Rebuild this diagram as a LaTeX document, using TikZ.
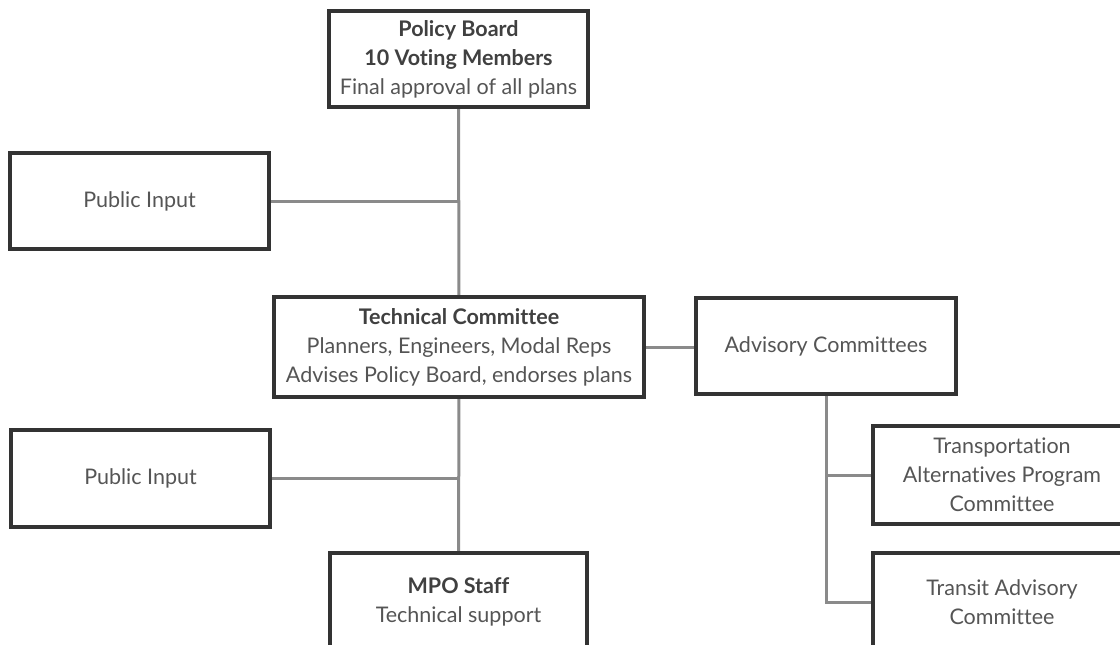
\documentclass[tikz,border=0pt]{standalone}
\usepackage{fontspec}
\setmainfont{Lato}[Ligatures=NoCommon]
\usepackage{xcolor}
\definecolor{boxline}{HTML}{333333}
\definecolor{wireline}{HTML}{8A8A8A}
\definecolor{bodytext}{HTML}{555555}
\definecolor{headtext}{HTML}{404040}

\tikzset{
  orgbox/.style={draw=boxline, line width=2.6pt, fill=white, align=center,
    inner sep=0pt, minimum width=257pt, minimum height=96pt,
    text=bodytext, font=\fontsize{21.5}{29}\selectfont},
  wire/.style={draw=wireline, line width=3pt}
}
\newcommand{\boxhead}[1]{\textcolor{headtext}{\textbf{#1}}}

\begin{document}
\begin{tikzpicture}[x=1pt,y=1pt,yscale=-1,xscale=1]
  \useasboundingbox (0,0) rectangle (1120,645);
  \clip (0,0) rectangle (1120,645);

  % Boxes
  \node [orgbox, minimum height=94pt] (board) at (458.5,59)
    {\boxhead{Policy Board}\\ \boxhead{10 Voting Members}\\ Final approval of all plans};
  \node [orgbox, minimum height=94pt] (pubtop) at (139.5,201) {Public Input};
  \node [orgbox, minimum width=368pt, minimum height=98pt] (tech) at (459,347)
    {\boxhead{Technical Committee}\\ Planners, Engineers, Modal Reps\\ Advises Policy Board, endorses plans};
  \node [orgbox, minimum width=258pt, minimum height=95pt] (advisory) at (826,346) {Advisory Committees};
  \node [orgbox] (pubbot) at (140.5,478.5) {Public Input};
  \node [orgbox, minimum width=255pt] (staff) at (458.5,602)
    {\boxhead{MPO Staff}\\ Technical support};
  \node [orgbox] (tap) at (1002,475) {Transportation\\ Alternatives Program\\ Committee};
  \node [orgbox] (transit) at (1002,602) {Transit Advisory\\ Committee};

  % Connectors
  \draw [wire] (board.south) -- (tech.north);
  \draw [wire] (pubtop.east) -- (pubtop.east -| board.south);
  \draw [wire] (tech.south) -- (staff.north);
  \draw [wire] (pubbot.east) -- (pubbot.east -| tech.south);
  \draw [wire] (tech.east) -- (tech.east -| advisory.west);
  \draw [wire] (advisory.south) -- (advisory.south |- transit.west) -- (transit.west);
  \draw [wire] (advisory.south |- tap.west) -- (tap.west);

  % Redraw box borders over the wire ends
  \foreach \b in {board,pubtop,tech,advisory,pubbot,staff,tap,transit}
    \draw [boxline, line width=2.6pt] (\b.north west) rectangle (\b.south east);
\end{tikzpicture}
\end{document}
